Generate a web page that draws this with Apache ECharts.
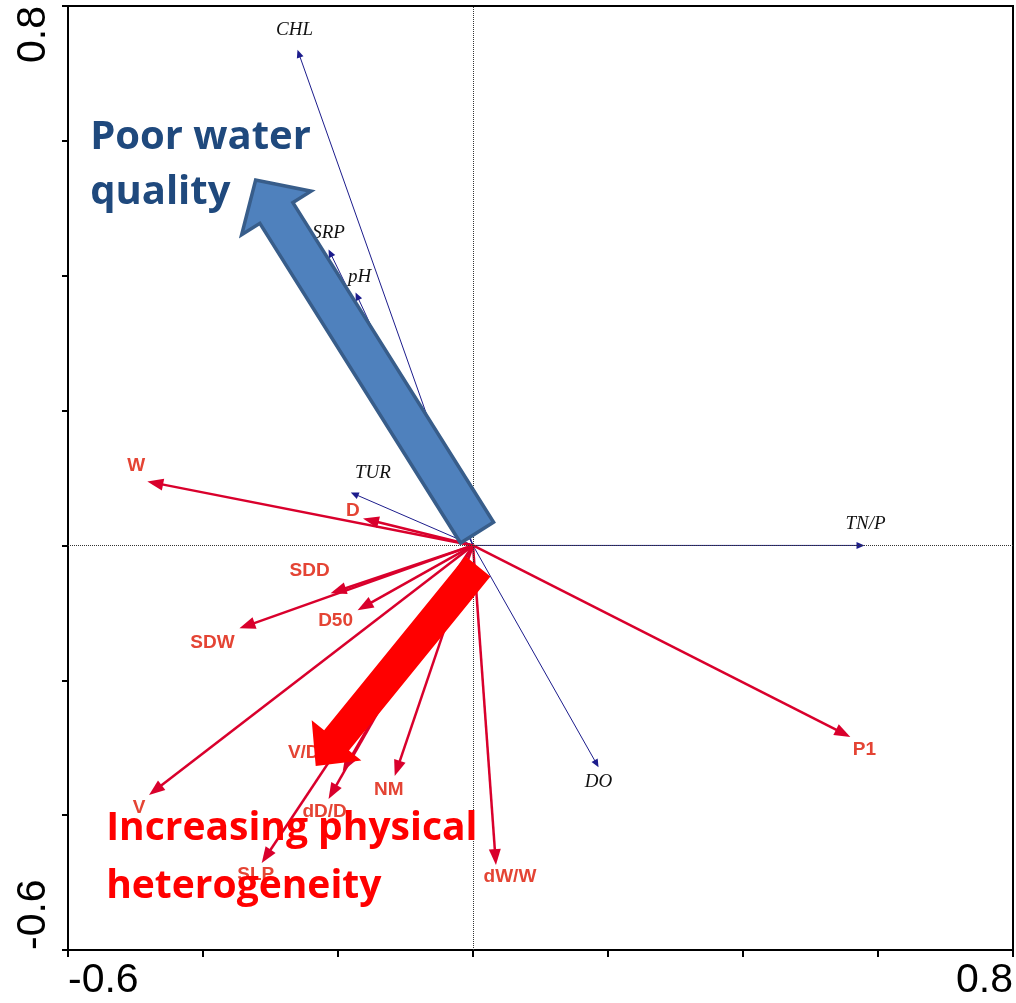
<!DOCTYPE html>
<html>
<head>
<meta charset="utf-8">
<script src="https://cdn.jsdelivr.net/npm/echarts@6/dist/echarts.min.js"></script>
<style>
html,body{margin:0;padding:0;background:#fff;}
#chart{width:1016px;height:1003px;}
</style>
</head>
<body>
<div id="chart"></div>
<script>
// ---- Data ----
const envNames = ['CHL', 'SRP', 'pH', 'TUR', 'TN/P', 'DO'];
const envX = [-0.260, -0.214, -0.174, -0.181, 0.580, 0.186];
const envY = [0.735, 0.439, 0.375, 0.0785, 0.0, -0.329];

const physNames = ['W', 'D', 'SDD', 'D50', 'SDW', 'V', 'V/D', 'dD/D', 'SLP', 'NM', 'dW/W', 'P1'];
const physX = [-0.4825, -0.163, -0.211, -0.171, -0.346, -0.480, -0.193, -0.214, -0.313, -0.116, 0.034, 0.559];
const physY = [0.0948, 0.040, -0.071, -0.096, -0.123, -0.370, -0.335, -0.376, -0.471, -0.342, -0.474, -0.284];

// big summary arrows
const bigArrowNames = ['Poor water quality', 'Increasing physical heterogeneity'];
const bigArrowFromX = [0.006, 0.0074];
const bigArrowFromY = [0.019, -0.031];
const bigArrowToX = [-0.322, -0.233];
const bigArrowToY = [0.542, -0.327];

// annotation texts, anchored at their top-left corner in data units
const noteTexts = ['Poor water\nquality', 'Increasing physical\nheterogeneity'];
const noteX = [-0.5672, -0.5435];
const noteY = [0.645, -0.3775];

const xTickShown = [-0.6, 0.8];
const yTickShown = [-0.6, 0.8];

// ---- Layout / style (label offsets in pixels from arrow tip) ----
const envLabelOffset = [[-3, -20], [0, -16], [4, -16], [22, -19], [1, -21], [0, 15]];
const physLabelOffset = [[-11, -16], [-10, -8], [-21, -23], [-22, 11], [-27, 14], [-10, 13],
                         [-39, -19], [-4, 13], [-6, 12], [-6, 14], [14, 12], [14, 13]];

function arrowRenderer(names, offsets, color, lw, headL, headW, labelFill, font) {
  return function (params, api) {
    const i = params.dataIndex;
    const p0 = api.coord([0, 0]);
    const p1 = api.coord([api.value(0), api.value(1)]);
    const dx = p1[0] - p0[0], dy = p1[1] - p0[1];
    const len = Math.hypot(dx, dy) || 1;
    const ux = dx / len, uy = dy / len;
    const nx = -uy, ny = ux;
    const bx = p1[0] - ux * headL, by = p1[1] - uy * headL;
    return {
      type: 'group',
      children: [
        { type: 'line', shape: { x1: p0[0], y1: p0[1], x2: bx + ux, y2: by + uy },
          style: { stroke: color, lineWidth: lw } },
        { type: 'polygon', shape: { points: [[p1[0], p1[1]], [bx + nx * headW, by + ny * headW], [bx - nx * headW, by - ny * headW]] },
          style: { fill: color } },
        { type: 'text', x: p1[0] + offsets[i][0], y: p1[1] + offsets[i][1],
          style: { text: names[i], fill: labelFill, font: font, align: 'center', verticalAlign: 'middle' } }
      ]
    };
  };
}

const bigStyles = [
  { fill: '#4f81bd', stroke: '#385d8a', lineWidth: 3.5, shaftHalf: 19.5, headHalf: 41, headLen: 39 },
  { fill: '#ff0000', stroke: null, lineWidth: 0, shaftHalf: 16, headHalf: 32, headLen: 33 }
];

function bigArrowRenderer(params, api) {
  const i = params.dataIndex;
  const s = bigStyles[i];
  const a = api.coord([api.value(0), api.value(1)]);
  const b = api.coord([api.value(2), api.value(3)]);
  const dx = b[0] - a[0], dy = b[1] - a[1];
  const len = Math.hypot(dx, dy);
  const ux = dx / len, uy = dy / len, nx = -uy, ny = ux;
  const hx = b[0] - ux * s.headLen, hy = b[1] - uy * s.headLen;
  const pts = [
    [a[0] + nx * s.shaftHalf, a[1] + ny * s.shaftHalf],
    [hx + nx * s.shaftHalf, hy + ny * s.shaftHalf],
    [hx + nx * s.headHalf, hy + ny * s.headHalf],
    [b[0], b[1]],
    [hx - nx * s.headHalf, hy - ny * s.headHalf],
    [hx - nx * s.shaftHalf, hy - ny * s.shaftHalf],
    [a[0] - nx * s.shaftHalf, a[1] - ny * s.shaftHalf]
  ];
  const style = { fill: s.fill };
  if (s.stroke) { style.stroke = s.stroke; style.lineWidth = s.lineWidth; style.lineJoin = 'miter'; }
  return { type: 'polygon', shape: { points: pts }, style: style };
}

const noteStyles = [
  { fill: '#1f497d', lineHeight: 55, fontSize: 40 },
  { fill: '#ff0000', lineHeight: 58, fontSize: 39 }
];
function noteRenderer(params, api) {
  const i = params.dataIndex;
  const p = api.coord([api.value(0), api.value(1)]);
  return {
    type: 'text', x: p[0], y: p[1],
    style: {
      text: noteTexts[i], fill: noteStyles[i].fill,
      fontFamily: 'Open Sans', fontWeight: 'bold', fontSize: noteStyles[i].fontSize,
      lineHeight: noteStyles[i].lineHeight, align: 'left', verticalAlign: 'top'
    }
  };
}

function isShown(v, list) { return list.some(t => Math.abs(t - v) < 1e-9); }
function fmt(v) { return (Math.round(v * 10) / 10).toFixed(1); }

const chart = echarts.init(document.getElementById('chart'), null, { renderer: 'canvas' });
chart.setOption({
  animation: false,
  backgroundColor: '#ffffff',
  grid: { left: 68, right: 3, top: 6, bottom: 53, show: true, borderColor: '#000', borderWidth: 2,
          backgroundColor: 'transparent', containLabel: false, outerBoundsMode: 'none' },
  xAxis: {
    type: 'value', min: -0.6, max: 0.8, interval: 0.2,
    axisLine: { show: true, onZero: false, lineStyle: { color: '#000', width: 2 } },
    axisTick: { show: true, inside: false, length: 7, lineStyle: { color: '#000', width: 2 } },
    splitLine: { show: false },
    axisLabel: {
      show: true, showMinLabel: true, showMaxLabel: true,
      alignMinLabel: 'left', alignMaxLabel: 'right',
      formatter: v => isShown(v, xTickShown) ? fmt(v) : '',
      fontFamily: 'Liberation Sans', fontSize: 41, color: '#000', margin: 10
    }
  },
  yAxis: {
    type: 'value', min: -0.6, max: 0.8, interval: 0.2,
    axisLine: { show: true, onZero: false, lineStyle: { color: '#000', width: 2 } },
    axisTick: { show: true, inside: false, length: 6, lineStyle: { color: '#000', width: 2 } },
    splitLine: { show: false },
    axisLabel: {
      show: true, rotate: 90, showMinLabel: true, showMaxLabel: true,
      alignMinLabel: 'left', alignMaxLabel: 'right',
      formatter: v => isShown(v, yTickShown) ? fmt(v) : '',
      fontFamily: 'Liberation Sans', fontSize: 41, color: '#000', margin: 14
    }
  },
  series: [
    {
      type: 'custom', name: 'env', coordinateSystem: 'cartesian2d', z: 3,
      encode: { x: 0, y: 1 },
      data: envX.map((x, i) => [x, envY[i]]),
      renderItem: arrowRenderer(envNames, envLabelOffset, '#1c1c8c', 1, 8, 3.5, '#111',
                                'italic 19px "Liberation Serif", "DejaVu Serif", serif'),
      markLine: {
        silent: true, symbol: ['none', 'none'], label: { show: false },
        lineStyle: { type: 'dotted', color: '#333', width: 1 },
        data: [{ xAxis: 0 }, { yAxis: 0 }]
      }
    },
    {
      type: 'custom', name: 'phys', coordinateSystem: 'cartesian2d', z: 4,
      encode: { x: 0, y: 1 },
      data: physX.map((x, i) => [x, physY[i]]),
      renderItem: arrowRenderer(physNames, physLabelOffset, '#d9002c', 2.5, 16, 6, '#e44434',
                                'bold 19px "Liberation Sans", Arial, sans-serif')
    },
    {
      type: 'custom', name: 'big', coordinateSystem: 'cartesian2d', z: 5,
      encode: { x: [0, 2], y: [1, 3] },
      data: bigArrowFromX.map((x, i) => [x, bigArrowFromY[i], bigArrowToX[i], bigArrowToY[i], bigArrowNames[i]]),
      renderItem: bigArrowRenderer
    },
    {
      type: 'custom', name: 'notes', coordinateSystem: 'cartesian2d', z: 6,
      encode: { x: 0, y: 1 },
      data: noteX.map((x, i) => [x, noteY[i]]),
      renderItem: noteRenderer
    }
  ]
});
</script>
</body>
</html>
